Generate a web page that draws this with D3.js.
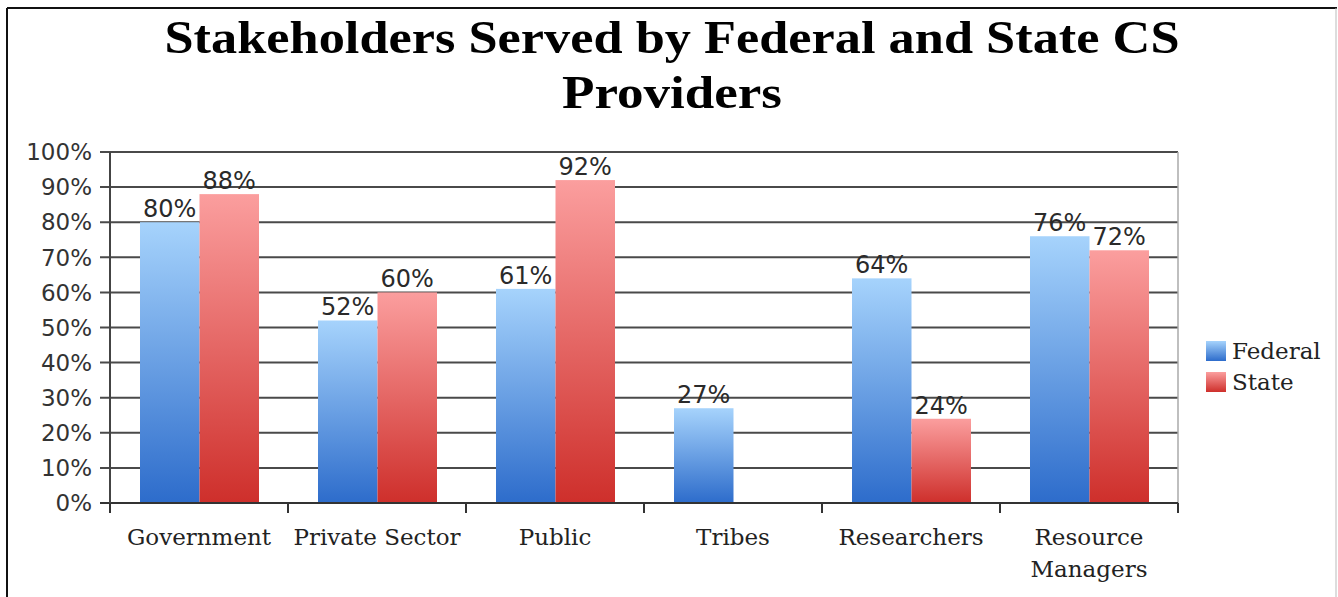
<!DOCTYPE html>
<html>
<head>
<meta charset="utf-8">
<script src="https://cdn.jsdelivr.net/npm/d3@7"></script>
<style>
  body { margin: 0; background: #fff; }
</style>
</head>
<body>
<script>
// chart data
const categories = ["Government", "Private Sector", "Public", "Tribes", "Researchers", "Resource Managers"];
const federal = [80, 52, 61, 27, 64, 76];
const state = [88, 60, 92, null, 24, 72];
const seriesNames = ["Federal", "State"];
const yTicks = [0, 10, 20, 30, 40, 50, 60, 70, 80, 90, 100];

const canvWidth = 1338, canvHeight = 597;
const svg = d3.select("body").append("svg")
    .attr("width", canvWidth)
    .attr("height", canvHeight);

// outer frame
svg.append("line").attr("x1", 7).attr("x2", 1337).attr("y1", 8).attr("y2", 8)
    .attr("stroke", "#111").attr("stroke-width", 2);
svg.append("line").attr("x1", 7).attr("x2", 7).attr("y1", 8).attr("y2", 597)
    .attr("stroke", "#111").attr("stroke-width", 2);
svg.append("line").attr("x1", 1336).attr("x2", 1336).attr("y1", 8).attr("y2", 597)
    .attr("stroke", "#bbb").attr("stroke-width", 1);

const margin = {top: 152, left: 110};
const width = 1068, height = 351;

// gradients for the bars
const defs = svg.append("defs");
const grads = [
    {id: "gradFederal", top: "#a6d3fc", bottom: "#2d6ccb"},
    {id: "gradState", top: "#fb9e9e", bottom: "#ce2f2b"}
];
grads.forEach(gr => {
    const lg = defs.append("linearGradient").attr("id", gr.id)
        .attr("x1", 0).attr("y1", 0).attr("x2", 0).attr("y2", 1);
    lg.append("stop").attr("offset", "0%").attr("stop-color", gr.top);
    lg.append("stop").attr("offset", "100%").attr("stop-color", gr.bottom);
});

// title
const title = svg.append("text")
    .attr("x", 672)
    .attr("font-family", "'Liberation Serif', serif")
    .attr("font-weight", "bold")
    .attr("font-size", "46px")
    .attr("fill", "#000")
    .style("text-anchor", "middle");
title.append("tspan").attr("x", 672).attr("y", 53)
    .attr("textLength", 1015).attr("lengthAdjust", "spacingAndGlyphs")
    .text("Stakeholders Served by Federal and State CS");
title.append("tspan").attr("x", 672).attr("y", 108)
    .attr("textLength", 220).attr("lengthAdjust", "spacingAndGlyphs")
    .text("Providers");

const g = svg.append("g")
    .attr("transform", "translate(" + margin.left + "," + margin.top + ")");

// scales
const xScale = d3.scaleBand()
    .domain(categories)
    .range([0, width])
    .paddingInner(0)
    .paddingOuter(0);

const innerPad = 30;
const xSub = d3.scaleBand()
    .domain(seriesNames)
    .range([innerPad, xScale.bandwidth() - innerPad + 1]);

const yScale = d3.scaleLinear()
    .domain([0, 100])
    .range([height, 0]);

// gridlines + y ticks
g.selectAll(".grid")
    .data(yTicks.filter(d => d > 0))
    .join("line")
    .attr("class", "grid")
    .attr("x1", -10)
    .attr("x2", width)
    .attr("y1", d => yScale(d))
    .attr("y2", d => yScale(d))
    .attr("stroke", "#4a4a4a")
    .attr("stroke-width", 2);

// right border of plot
g.append("line")
    .attr("x1", width).attr("x2", width)
    .attr("y1", 0).attr("y2", height)
    .attr("stroke", "#aaa").attr("stroke-width", 1.5);

g.selectAll(".ytick")
    .data(yTicks)
    .join("text")
    .attr("class", "ytick")
    .attr("x", -18)
    .attr("y", d => yScale(d))
    .attr("dy", "0.36em")
    .attr("font-family", "'DejaVu Sans', Verdana, sans-serif")
    .attr("font-size", "23px")
    .attr("fill", "#333")
    .style("text-anchor", "end")
    .text(d => d + "%");

// bars
const rows = categories.map((c, i) => ({cat: c, values: [
    {series: "Federal", value: federal[i]},
    {series: "State", value: state[i]}
]}));

const groups = g.selectAll(".group")
    .data(rows)
    .join("g")
    .attr("class", "group")
    .attr("transform", d => "translate(" + xScale(d.cat) + ",0)");

const barData = d => d.values.filter(v => v.value !== null);

groups.selectAll("rect")
    .data(barData)
    .join("rect")
    .attr("x", d => xSub(d.series))
    .attr("width", xSub.bandwidth())
    .attr("y", d => yScale(d.value))
    .attr("height", d => height - yScale(d.value))
    .attr("fill", d => d.series === "Federal" ? "url(#gradFederal)" : "url(#gradState)");

groups.selectAll(".vlabel")
    .data(barData)
    .join("text")
    .attr("class", "vlabel")
    .attr("x", d => xSub(d.series) + xSub.bandwidth() / 2)
    .attr("y", d => yScale(d.value) - 5)
    .attr("font-family", "'DejaVu Sans', Verdana, sans-serif")
    .attr("font-size", "24px")
    .attr("fill", "#2a2a2a")
    .style("text-anchor", "middle")
    .text(d => d.value + "%");

// axes lines
g.append("line")
    .attr("x1", -10).attr("x2", width)
    .attr("y1", height).attr("y2", height)
    .attr("stroke", "#333").attr("stroke-width", 2);
g.append("line")
    .attr("x1", 0).attr("x2", 0)
    .attr("y1", 0).attr("y2", height + 9)
    .attr("stroke", "#444").attr("stroke-width", 2);

// x ticks at category boundaries
const xBounds = categories.map(c => xScale(c)).concat([width]);
g.selectAll(".xtick")
    .data(xBounds)
    .join("line")
    .attr("class", "xtick")
    .attr("x1", d => d).attr("x2", d => d)
    .attr("y1", height).attr("y2", height + 10)
    .attr("stroke", "#333").attr("stroke-width", 2);

// category labels
const catLabels = g.selectAll(".xlabel")
    .data(categories)
    .join("text")
    .attr("class", "xlabel")
    .attr("x", d => xScale(d) + xScale.bandwidth() / 2)
    .attr("y", height + 42)
    .attr("font-family", "'DejaVu Serif', serif")
    .attr("font-size", "23px")
    .attr("fill", "#222")
    .style("text-anchor", "middle");

catLabels.each(function (d) {
    const words = d === "Resource Managers" ? ["Resource", "Managers"] : [d];
    const t = d3.select(this);
    words.forEach((w, i) => {
        t.append("tspan")
            .attr("x", xScale(d) + xScale.bandwidth() / 2)
            .attr("dy", i === 0 ? 0 : 32)
            .text(w);
    });
});

// legend
const legend = svg.append("g")
    .attr("transform", "translate(1206,341)");
const colors = {Federal: "url(#gradFederal)", State: "url(#gradState)"};
seriesNames.forEach((s, i) => {
    legend.append("rect")
        .attr("x", 0)
        .attr("y", i * 31)
        .attr("width", 20)
        .attr("height", 20)
        .attr("fill", colors[s]);
    legend.append("text")
        .attr("x", 26)
        .attr("y", i * 31 + 18)
        .attr("font-family", "'DejaVu Serif', serif")
        .attr("font-size", "23px")
        .attr("fill", "#222")
        .text(s);
});
</script>
</body>
</html>
